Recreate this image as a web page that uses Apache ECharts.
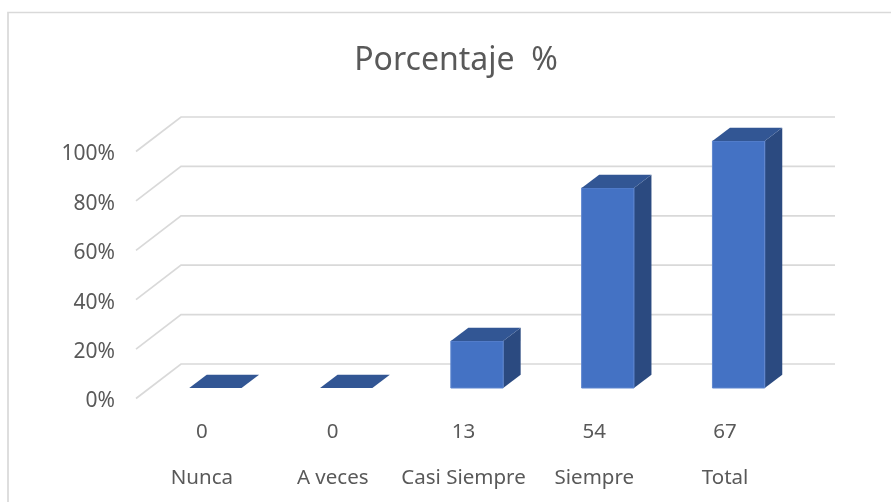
<!DOCTYPE html>
<html>
<head>
<meta charset="utf-8">
<style>html,body{margin:0;padding:0;background:#fff}#c{width:891px;height:502px}</style>
<script src="https://cdn.jsdelivr.net/npm/echarts@6/dist/echarts.min.js"></script>
</head>
<body>
<div id="c"></div>
<script>
const categories = ['Nunca', 'A veces', 'Casi Siempre', 'Siempre', 'Total'];
const counts = ['0', '0', '13', '54', '67'];
const percentages = [0, 0, 19, 81, 100];
const yTicks = [0, 20, 40, 60, 80, 100];
const title = 'Porcentaje  %';

const FONT = '"Noto Sans", sans-serif';
const TEXT = '#595959';
const GRID = '#d9d9d9';
const barDepth = { x: 17.5, y: 13.3 };
const wallBack = { x: 31, y: 24 };
const wallFront = { x: 14, y: 10.5 };
const barRatio = 0.4;

const plot = { left: 150, width: 654, top: 141, height: 247 };
const labelShift = 13.5;

function renderWall(params, api) {
  const p = api.coord([0, api.value(1)]);
  const cs = params.coordSys;
  const y = p[1];
  return {
    type: 'polyline',
    silent: true,
    shape: { points: [
      [cs.x - wallFront.x, y + wallFront.y],
      [cs.x + wallBack.x, y - wallBack.y],
      [cs.x + cs.width + wallBack.x, y - wallBack.y]
    ] },
    style: { stroke: GRID, lineWidth: 1.7, fill: null }
  };
}

function renderBar(params, api) {
  const top = api.coord([api.value(0), api.value(1)]);
  const base = api.coord([api.value(0), 0]);
  const w = api.size([1, 0])[0] * barRatio;
  const l = top[0] - w / 2, r = top[0] + w / 2;
  const t = top[1], b = base[1];
  const dx = barDepth.x, dy = barDepth.y;
  const children = [];
  if (b - t > 0.5) {
    children.push({
      type: 'polygon',
      shape: { points: [[r, t], [r + dx, t - dy], [r + dx, b - dy], [r, b]] },
      style: { fill: '#2b4a80' }
    });
    children.push({
      type: 'rect',
      shape: { x: l, y: t, width: w, height: b - t },
      style: { fill: '#4472c4', stroke: '#5f86cf', lineWidth: 1 }
    });
  }
  children.push({
    type: 'polygon',
    shape: { points: [[l, t], [r, t], [r + dx, t - dy], [l + dx, t - dy]] },
    style: { fill: '#325694' }
  });
  return { type: 'group', children };
}

const hiddenY = (gridIndex) => ({
  type: 'value', gridIndex, min: 0, max: 100, interval: 20, show: false
});
const labelGrid = { left: plot.left - labelShift, width: plot.width, top: plot.top, height: plot.height };
const labelAxis = (gridIndex, data, margin) => ({
  type: 'category', gridIndex, data,
  axisLine: { show: false }, axisTick: { show: false }, splitLine: { show: false },
  axisLabel: { interval: 0, margin, color: TEXT, fontFamily: FONT, fontSize: 20.5, lineHeight: 22, hideOverlap: false }
});

const chart = echarts.init(document.getElementById('c'), null, { renderer: 'canvas' });
chart.setOption({
  animation: false,
  backgroundColor: '#ffffff',
  title: {
    text: title, left: 451, top: 34, textAlign: 'center',
    textStyle: { color: TEXT, fontFamily: FONT, fontSize: 32, fontWeight: 'normal', lineHeight: 44 }
  },
  graphic: [
    { type: 'polyline', silent: true, z: 0,
      shape: { points: [[8, 502], [8, 12.5], [891, 12.5]] },
      style: { stroke: GRID, lineWidth: 1.7, fill: null } }
  ],
  grid: [plot, labelGrid, labelGrid],
  xAxis: [
    { type: 'category', gridIndex: 0, data: categories, show: false },
    labelAxis(1, counts, 33),
    labelAxis(2, categories, 79)
  ],
  yAxis: [
    { type: 'value', gridIndex: 0, min: 0, max: 100, interval: 20,
      axisLine: { show: false }, axisTick: { show: false }, splitLine: { show: false },
      axisLabel: { formatter: '{value}%', margin: 35, color: TEXT, fontFamily: FONT, fontSize: 21,
        verticalAlign: 'top', lineHeight: 27 } },
    hiddenY(1),
    hiddenY(2)
  ],
  series: [
    { type: 'custom', name: 'walls', xAxisIndex: 0, yAxisIndex: 0, z: 1, silent: true,
      renderItem: renderWall, data: yTicks.map(v => [0, v]), encode: { x: 0, y: 1 } },
    { type: 'custom', name: 'Porcentaje', xAxisIndex: 0, yAxisIndex: 0, z: 2,
      renderItem: renderBar, data: percentages.map((v, i) => [i, v]), encode: { x: 0, y: 1 } }
  ]
});
</script>
</body>
</html>
